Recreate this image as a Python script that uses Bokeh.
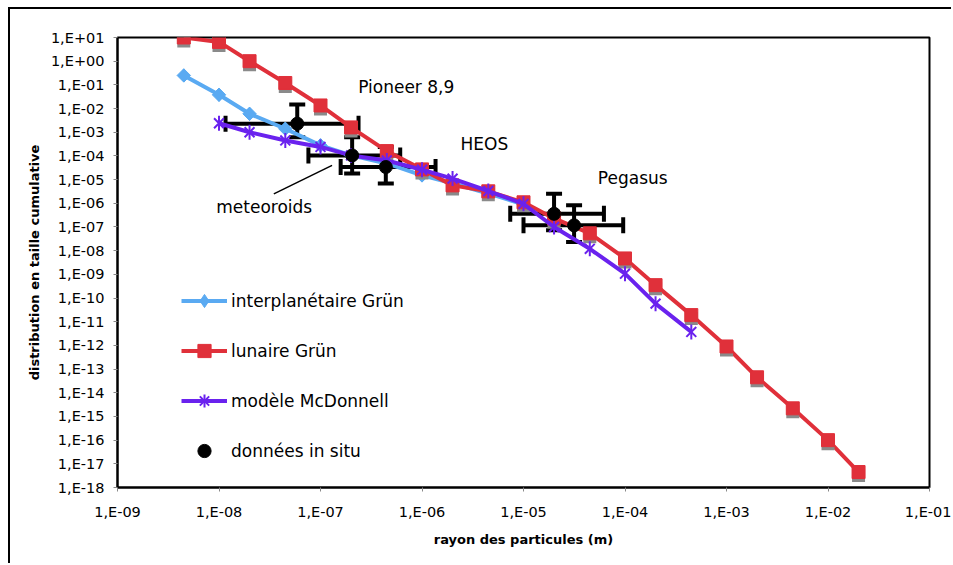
import numpy as np
from bokeh.plotting import figure
from bokeh.models import (Range1d, FixedTicker, CustomJSTickFormatter, Legend, LegendItem,
                          Whisker, TeeHead, ColumnDataSource)
from bokeh.core.properties import value
from bokeh.embed import file_html
from bokeh.resources import INLINE

# ---------------- data ----------------
radius = [4.5e-9, 1e-8, 2e-8, 4.5e-8, 1e-7, 2e-7, 4.5e-7, 1e-6, 2e-6, 4.5e-6, 1e-5,
          2e-5, 4.5e-5, 1e-4, 2e-4, 4.5e-4, 1e-3, 2e-3, 4.5e-3, 1e-2, 2e-2]
lunaire = [10, 6.5, 1.0, 0.12, 1.35e-2, 1.6e-3, 1.6e-4, 2.7e-5, 5.7e-6, 3.2e-6, 1.1e-6,
           2.3e-7, 5.4e-8, 4.7e-9, 3.5e-10, 1.9e-11, 9e-13, 4.5e-14, 2.2e-15, 1e-16, 4.5e-18]

interp_radius = [4.5e-9, 1e-8, 2e-8, 4.5e-8, 1e-7, 2e-7, 4.5e-7, 1e-6, 2e-6, 4.5e-6, 1e-5]
interplanetaire = [0.25, 3.8e-2, 6e-3, 1.4e-3, 2.8e-4, 1.05e-4, 4.8e-5, 1.5e-5, 7e-6, 2.6e-6, 9e-7]

mcd_radius = [1e-8, 2e-8, 4.5e-8, 1e-7, 2e-7, 4.5e-7, 1e-6, 2e-6, 4.5e-6, 1e-5,
              2e-5, 4.5e-5, 1e-4, 2e-4, 4.5e-4]
mcdonnell = [2.4e-3, 1e-3, 4.5e-4, 2.4e-4, 1.05e-4, 6.4e-5, 2.6e-5, 1.1e-5, 3.3e-6, 9.5e-7,
             1e-7, 1.2e-8, 1.07e-9, 5.8e-11, 3.7e-12]

situ_r = [5.9e-8, 2.05e-7, 4.4e-7, 2.0e-5, 3.15e-5]
situ_n = [2.3e-3, 1.05e-4, 3.4e-5, 3.6e-7, 1.17e-7]
situ_r_lo = [1.16e-8, 7.6e-8, 1.58e-7, 7.4e-6, 1.0e-5]
situ_r_hi = [2.37e-7, 6.1e-7, 1.36e-6, 6.2e-5, 9.6e-5]
situ_n_lo = [6.2e-4, 1.8e-5, 6.8e-6, 7.2e-8, 2.3e-8]
situ_n_hi = [1.5e-2, 6.2e-4, 2.4e-4, 2.5e-6, 8.2e-7]

note_text = ["Pioneer 8,9", "HEOS", "Pegasus", "meteoroids"]
note_x = [2.35e-7, 2.4e-6, 5.4e-5, 9.4e-9]
note_y = [7.8e-2, 3.3e-4, 1.2e-5, 6.9e-7]
pointer_x = [3.47e-8, 1.3e-7]
pointer_y = [2.5e-6, 4e-5]

x_ticks = [10.0 ** k for k in range(-9, 0)]
y_ticks = [10.0 ** k for k in range(-18, 2)]

# ---------------- styles ----------------
FONT = "DejaVu Sans"
RED = "#E0303A"
BLUE = "#5AAAF2"
PURPLE = "#6A22EE"
SHADOW = 10 ** (-3.5 / 23.7)  # visual drop shadow offset (~3.5 px down)

p = figure(width=943, height=556, x_axis_type="log", y_axis_type="log",
           x_range=Range1d(1e-9, 1e-1), y_range=Range1d(1e-18, 1e1),
           output_backend="svg", toolbar_location=None,
           min_border_left=107, min_border_right=24, min_border_top=28, min_border_bottom=78)
p.styles = {"margin-left": "8px", "margin-top": "7px",
            "border-left": "2px solid black", "border-top": "2px solid black"}
p.background_fill_color = "white"
p.border_fill_color = "white"
p.outline_line_color = "black"
p.outline_line_width = 2
p.xgrid.visible = False
p.ygrid.visible = False

fmt = CustomJSTickFormatter(code="""
const e = Math.round(Math.log10(tick));
const s = Math.abs(e).toString().padStart(2, '0');
return '1,E' + (e < 0 ? '-' : '+') + s;
""")

for ax, ticks in ((p.xaxis[0], x_ticks), (p.yaxis[0], y_ticks)):
    ax.ticker = FixedTicker(ticks=ticks, minor_ticks=[])
    ax.formatter = fmt
    ax.axis_line_color = "black"
    ax.axis_line_width = 2
    ax.major_tick_line_color = "#888888"
    ax.major_tick_in = 0
    ax.major_tick_out = 4
    ax.minor_tick_line_color = None
    ax.major_label_text_font = FONT
    ax.major_label_text_font_size = "14.5px"
    ax.major_label_text_color = "black"
    ax.axis_label_text_font = FONT
    ax.axis_label_text_font_size = "13px"
    ax.axis_label_text_font_style = "bold"
    ax.axis_label_text_color = "black"

p.xaxis.axis_label = "rayon des particules (m)"
p.xaxis.major_label_standoff = 12
p.xaxis.axis_label_standoff = 9
p.yaxis.axis_label = "distribution en taille cumulative"
p.yaxis.major_label_standoff = 9
p.yaxis.axis_label_standoff = 6

# error bars (beneath the series)
src = ColumnDataSource(dict(r=situ_r, n=situ_n, rlo=situ_r_lo, rhi=situ_r_hi,
                            nlo=situ_n_lo, nhi=situ_n_hi))
wx = Whisker(source=src, base="n", lower="rlo", upper="rhi", dimension="width",
             line_color="black", line_width=4, level="underlay",
             lower_head=TeeHead(size=16, line_width=4, line_color="black"),
             upper_head=TeeHead(size=16, line_width=4, line_color="black"))
wy = Whisker(source=src, base="r", lower="nlo", upper="nhi", dimension="height",
             line_color="black", line_width=4, level="underlay",
             lower_head=TeeHead(size=16, line_width=4, line_color="black"),
             upper_head=TeeHead(size=16, line_width=4, line_color="black"))
p.add_layout(wx)
p.add_layout(wy)

# interplanétaire Grün
b_line = p.line(interp_radius, interplanetaire, line_color=BLUE, line_width=4)
b_key = p.scatter(interp_radius, interplanetaire, marker="diamond", size=13,
                  fill_color=BLUE, line_color=BLUE)
p.scatter(interp_radius, interplanetaire, marker="square", angle=np.pi / 4,
          size=9.5, fill_color=BLUE, line_color=BLUE)

# lunaire Grün
r_line = p.line(radius, lunaire, line_color=RED, line_width=4)
p.scatter(radius, [v * SHADOW for v in lunaire], marker="square", size=13,
          fill_color="#8a8a8a", line_color=None)
r_mark = p.scatter(radius, lunaire, marker="square", size=13, fill_color=RED, line_color=RED)

# modèle McDonnell
m_line = p.line(mcd_radius, mcdonnell, line_color=PURPLE, line_width=4)
m_key = p.scatter(mcd_radius, mcdonnell, marker="cross", size=1, line_color=PURPLE, line_width=2)
m_x = p.scatter(mcd_radius, mcdonnell, marker="x", size=14, line_color=PURPLE, line_width=2)
m_v = p.scatter(mcd_radius, mcdonnell, marker="dash", angle=np.pi / 2, size=15,
                line_color=PURPLE, line_width=2)

# données in situ
d_mark = p.scatter("r", "n", source=src, marker="circle", size=13,
                   fill_color="black", line_color="black")

# annotations
p.text(note_x, note_y, text=note_text, text_font=value(FONT), text_font_size="17px",
       text_baseline="middle", text_align="left", text_color="black")
p.line(pointer_x, pointer_y, line_color="black", line_width=1.5)

legend = Legend(items=[
    LegendItem(label="interplanétaire Grün", renderers=[b_line, b_key]),
    LegendItem(label="lunaire Grün", renderers=[r_line, r_mark]),
    LegendItem(label="modèle McDonnell", renderers=[m_line, m_key, m_x]),
    LegendItem(label="données in situ", renderers=[d_mark]),
], location=(64, 20))
legend.padding = 0
legend.margin = 0
legend.border_line_alpha = 0
legend.background_fill_alpha = 0
legend.glyph_width = 46
legend.glyph_height = 33
legend.label_height = 33
legend.spacing = 17
legend.label_standoff = 4
legend.label_text_font = FONT
legend.label_text_font_size = "17px"
legend.label_text_color = "black"
p.add_layout(legend, "center")

open("out.html", "w").write(file_html(p, INLINE))
